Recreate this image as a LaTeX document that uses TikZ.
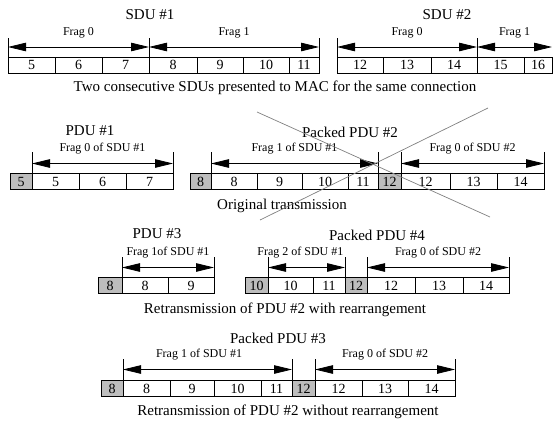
\documentclass[tikz,border=0pt]{standalone}
\usepackage{fontspec}
\setmainfont{Liberation Serif}
\usetikzlibrary{arrows.meta,positioning,calc}
\definecolor{cHead}{HTML}{BDBDBD}
\definecolor{cCross}{HTML}{808080}
\tikzset{
  cell/.style={draw, line width=0.8pt, minimum width=#1, minimum height=16pt,
               inner sep=0pt, outer sep=0pt, font=\fontsize{14}{14}\selectfont},
  cell/.default=47pt,
  head/.style={cell=#1, fill=cHead},
  head/.default=22pt,
  tick/.style={line width=0.8pt},
  frag/.style={{Triangle[length=18pt,width=8.5pt]}-{Triangle[length=18pt,width=8.5pt]}, line width=0.8pt},
  fraglbl/.style={above=9pt, inner sep=0pt, font=\fontsize{12}{12}\selectfont},
  title/.style={inner sep=0pt, font=\fontsize{15}{15}\selectfont},
  cross/.style={draw=cCross, line width=0.7pt},
}
\begin{document}
\begin{tikzpicture}[x=1pt, y=1pt]
\useasboundingbox (0,0) rectangle (553,-423);
% two SDUs
\node[title] (sdu1) at (150,-15) {SDU \#1};
\node[title] (sdu2) at (447,-15) {SDU \#2};
\node[cell, anchor=west] (s5) at (8,-65) {5};
\node[cell, right=0pt of s5] (s6) {6};
\node[cell, right=0pt of s6] (s7) {7};
\node[cell=48pt, right=0pt of s7] (s8) {8};
\node[cell=46pt, right=0pt of s8] (s9) {9};
\node[cell=46pt, right=0pt of s9] (s10) {10};
\node[cell=30pt, right=0pt of s10] (s11) {11};
\node[cell=46pt, anchor=west] (s12) at (337,-65) {12};
\node[cell=48pt, right=0pt of s12] (s13) {13};
\node[cell=46pt, right=0pt of s13] (s14) {14};
\node[cell, right=0pt of s14] (s15) {15};
\node[cell=28pt, right=0pt of s15] (s16) {16};
\foreach \n/\a in {s5/north west, s8/north west, s11/north east, s12/north west, s15/north west}
  \draw[tick] (\n.\a) -- ++(0,19);
\draw[frag] ([yshift=10pt]s5.north west) -- node[fraglbl] {Frag 0} ([yshift=10pt]s7.north east);
\draw[frag] ([yshift=10pt]s8.north west) -- node[fraglbl] {Frag 1} ([yshift=10pt]s11.north east);
\draw[frag] ([yshift=10pt]s12.north west) -- node[fraglbl] {Frag 0} ([yshift=10pt]s14.north east);
\draw[frag] ([yshift=10pt]s15.north west) -- node[fraglbl] {Frag 1} ([yshift=10pt]s16.north east);
\node[title] (cap1) at (275,-88) {Two consecutive SDUs presented to MAC for the same connection};
% original transmission
\node[title] (pdu1) at (90,-131) {PDU \#1};
\node[title] (pdu2) at (350,-132) {Packed PDU \#2};
\node[head, anchor=west] (ph5) at (10,-181.5) {5};
\node[cell, right=0pt of ph5] (p5) {5};
\node[cell, right=0pt of p5] (p6) {6};
\node[cell, right=0pt of p6] (p7) {7};
\node[head=21pt, anchor=west] (ph8) at (190,-181.5) {8};
\node[cell=46pt, right=0pt of ph8] (p8) {8};
\node[cell=45pt, right=0pt of p8] (p9) {9};
\node[cell=46pt, right=0pt of p9] (p10) {10};
\node[cell=30pt, right=0pt of p10] (p11) {11};
\node[head=23pt, right=0pt of p11] (ph12) {12};
\node[cell=49pt, right=0pt of ph12] (p12) {12};
\node[cell, right=0pt of p12] (p13) {13};
\node[cell, right=0pt of p13] (p14) {14};
\foreach \n/\a in {p5/north west, p7/north east, p8/north west, p11/north east, p12/north west, p14/north east}
  \draw[tick] (\n.\a) -- ++(0,22);
\draw[frag] ([yshift=10pt]p5.north west) -- node[fraglbl] {Frag 0 of SDU \#1} ([yshift=10pt]p7.north east);
\draw[frag] ([yshift=10pt]p8.north west) -- node[fraglbl] {Frag 1 of SDU \#1} ([yshift=10pt]p11.north east);
\draw[frag] ([yshift=10pt]p12.north west) -- node[fraglbl] {Frag 0 of SDU \#2} ([yshift=10pt]p14.north east);
\node[title] (cap2) at (282,-206) {Original transmission};
\draw[cross] (257,-112) -- (490,-217);
\draw[cross] (488,-108) -- (260,-220);
% retransmission with rearrangement
\node[title] (pdu3) at (157,-234) {PDU \#3};
\node[title] (pdu4) at (377,-235) {Packed PDU \#4};
\node[head=24pt, anchor=west] (rh8) at (98,-285.5) {8};
\node[cell=46pt, right=0pt of rh8] (r8) {8};
\node[cell=46pt, right=0pt of r8] (r9) {9};
\node[head=23pt, anchor=west] (rh10) at (245,-285.5) {10};
\node[cell=45pt, right=0pt of rh10] (r10) {10};
\node[cell=32pt, right=0pt of r10] (r11) {11};
\node[head, right=0pt of r11] (rh12) {12};
\node[cell=48pt, right=0pt of rh12] (r12) {12};
\node[cell=48pt, right=0pt of r12] (r13) {13};
\node[cell=46pt, right=0pt of r13] (r14) {14};
\foreach \n/\a in {r8/north west, r9/north east, r10/north west, r11/north east, r12/north west, r14/north east}
  \draw[tick] (\n.\a) -- ++(0,21);
\draw[frag] ([yshift=10pt]r8.north west) -- node[fraglbl] {Frag 1of SDU \#1} ([yshift=10pt]r9.north east);
\draw[frag] ([yshift=10pt]r10.north west) -- node[fraglbl, pos=0.42] {Frag 2 of SDU \#1} ([yshift=10pt]r11.north east);
\draw[frag] ([yshift=10pt]r12.north west) -- node[fraglbl] {Frag 0 of SDU \#2} ([yshift=10pt]r14.north east);
\node[title] (cap3) at (285,-310) {Retransmission of PDU \#2 with rearrangement};
% retransmission without rearrangement
\node[title] (pdu3b) at (278,-338) {Packed PDU \#3};
\node[head, anchor=west] (nh8) at (101,-388.5) {8};
\node[cell, right=0pt of nh8] (n8) {8};
\node[cell=44pt, right=0pt of n8] (n9) {9};
\node[cell, right=0pt of n9] (n10) {10};
\node[cell=31pt, right=0pt of n10] (n11) {11};
\node[head=23pt, right=0pt of n11] (nh12) {12};
\node[cell, right=0pt of nh12] (n12) {12};
\node[cell=46pt, right=0pt of n12] (n13) {13};
\node[cell, right=0pt of n13] (n14) {14};
\foreach \n/\a in {n8/north west, n11/north east, n12/north west, n14/north east}
  \draw[tick] (\n.\a) -- ++(0,22);
\draw[frag] ([yshift=11pt]n8.north west) -- node[fraglbl, pos=0.45] {Frag 1 of SDU \#1} ([yshift=11pt]n11.north east);
\draw[frag] ([yshift=11pt]n12.north west) -- node[fraglbl] {Frag 0 of SDU \#2} ([yshift=11pt]n14.north east);
\node[title] (cap4) at (288,-412) {Retransmission of PDU \#2 without rearrangement};
\end{tikzpicture}
\end{document}
